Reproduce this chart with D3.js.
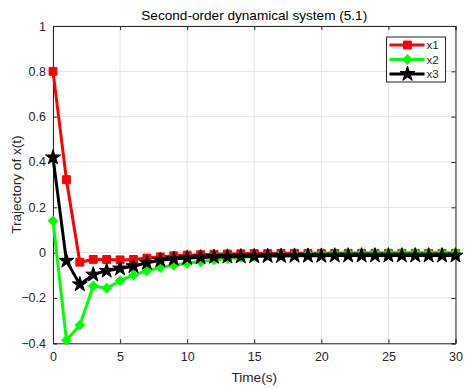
<!DOCTYPE html>
<html><head><meta charset="utf-8">
<script src="https://cdn.jsdelivr.net/npm/d3@7"></script>
<style>
html,body{margin:0;padding:0;background:#fff;}
svg{display:block;font-family:"Liberation Sans",Arial,Helvetica,sans-serif;}
</style></head><body>
<svg id="chart" width="472" height="388"></svg>
<script>
const time = d3.range(0, 31);
const x1 = [0.8, 0.322, -0.042, -0.03, -0.03, -0.032, -0.03, -0.024, -0.019, -0.014, -0.011, -0.009, -0.007, -0.006, -0.005, -0.004, -0.004, -0.003, -0.003, -0.003, -0.003, -0.003, -0.003, -0.003, -0.003, -0.003, -0.003, -0.003, -0.003, -0.003, -0.003];
const x2 = [0.14, -0.386, -0.32, -0.147, -0.157, -0.124, -0.099, -0.08, -0.066, -0.056, -0.047, -0.039, -0.032, -0.026, -0.021, -0.017, -0.013, -0.01, -0.008, -0.006, -0.005, -0.004, -0.003, -0.002, -0.002, -0.001, -0.001, 0, 0, 0, 0];
const x3 = [0.42, -0.036, -0.14, -0.097, -0.08, -0.07, -0.06, -0.045, -0.034, -0.028, -0.024, -0.021, -0.019, -0.018, -0.017, -0.016, -0.015, -0.015, -0.014, -0.014, -0.014, -0.013, -0.013, -0.013, -0.013, -0.013, -0.013, -0.013, -0.013, -0.013, -0.013];
const seriesNames = ["x1", "x2", "x3"];
const xTicks = [0, 5, 10, 15, 20, 25, 30];
const yTicks = [-0.4, -0.2, 0, 0.2, 0.4, 0.6, 0.8, 1];
const titleText = "Second-order dynamical system (5.1)";
const xLabel = "Time(s)";
const yLabel = "Trajectory of x(t)";

const svg = d3.select("#chart");
const L = 53, R = 455.5, T = 26, B = 343.3;
const x = d3.scaleLinear().domain([0, 30]).range([L, R]);
const y = d3.scaleLinear().domain([-0.4, 1]).range([B, T]);
const axisColor = "#262626";

// grid
const g = svg.append("g");
g.selectAll(".gx").data(xTicks).enter().append("line")
  .attr("x1", d => x(d)).attr("x2", d => x(d)).attr("y1", T).attr("y2", B)
  .attr("stroke", "#e3e3e3").attr("stroke-width", 1);
g.selectAll(".gy").data(yTicks).enter().append("line")
  .attr("y1", d => y(d)).attr("y2", d => y(d)).attr("x1", L).attr("x2", R)
  .attr("stroke", "#e3e3e3").attr("stroke-width", 1);

// axes
const fmt = d => d3.format("")(+d.toFixed(1));
const xAxis = svg.append("g").attr("transform", `translate(0,${B})`)
  .call(d3.axisBottom(x).tickValues(xTicks).tickSize(-4).tickPadding(9).tickFormat(d3.format("d")));
const xAxisTop = svg.append("g").attr("transform", `translate(0,${T})`)
  .call(d3.axisTop(x).tickValues(xTicks).tickSize(-4).tickFormat(""));
const yAxis = svg.append("g").attr("transform", `translate(${L},0)`)
  .call(d3.axisLeft(y).tickValues(yTicks).tickSize(-4).tickPadding(7).tickFormat(fmt));
const yAxisR = svg.append("g").attr("transform", `translate(${R},0)`)
  .call(d3.axisRight(y).tickValues(yTicks).tickSize(-4).tickFormat(""));
[xAxis, xAxisTop, yAxis, yAxisR].forEach(a => {
  a.select(".domain").attr("stroke", axisColor).attr("stroke-width", 1);
  a.selectAll(".tick line").attr("stroke", axisColor);
  a.selectAll("text").attr("fill", axisColor).style("font-size", "12.5px")
    .style("font-family", '"Liberation Sans",Arial,sans-serif');
});

// series
const colors = ["#ff0000", "#00ff00", "#000000"];
const data = [x1, x2, x3];
const line = d3.line().x((d, i) => x(time[i])).y(d => y(d));
const symSquare = d3.symbol().type(d3.symbolSquare).size(62);
const symDiamond = d3.symbol().type(d3.symbolSquare).size(44);
const symStar = d3.symbol().type(d3.symbolStar).size(70);
function drawMarker(sel, k) {
  if (k === 0) return sel.append("path").attr("d", symSquare());
  if (k === 1) return sel.append("path").attr("d", symDiamond()).attr("transform", "rotate(45)");
  return sel.append("path").attr("d", symStar());
}
data.forEach((vals, k) => {
  const sg = svg.append("g");
  sg.append("path").datum(vals).attr("d", line).attr("fill", "none")
    .attr("stroke", colors[k]).attr("stroke-width", 3).attr("stroke-linejoin", "round");
  vals.forEach((v, i) => {
    const m = sg.append("g").attr("transform", `translate(${x(time[i])},${y(v)})`);
    drawMarker(m, k).attr("fill", colors[k]).attr("stroke", colors[k]).attr("stroke-width", 1);
  });
});

// title & labels
svg.append("text").attr("x", (L + R) / 2).attr("y", 20).attr("text-anchor", "middle")
  .style("font-size", "13.6px").attr("fill", "#000").text(titleText);
svg.append("text").attr("x", (L + R) / 2).attr("y", 382).attr("text-anchor", "middle")
  .style("font-size", "13.6px").attr("fill", axisColor).text(xLabel);
svg.append("text").attr("transform", `translate(21,${(T + B) / 2}) rotate(-90)`).attr("text-anchor", "middle")
  .style("font-size", "13.6px").attr("fill", axisColor).text(yLabel);

// legend
const lg = svg.append("g");
const lx = 386.5, ly = 37, lw = 59, lh = 45;
lg.append("rect").attr("x", lx).attr("y", ly).attr("width", lw).attr("height", lh)
  .attr("fill", "#fff").attr("stroke", axisColor).attr("stroke-width", 1);
seriesNames.forEach((n, k) => {
  const yy = ly + 8 + k * 14.5;
  lg.append("line").attr("x1", lx + 3).attr("x2", lx + 38).attr("y1", yy).attr("y2", yy)
    .attr("stroke", colors[k]).attr("stroke-width", 3);
  const m = lg.append("g").attr("transform", `translate(${lx + 21},${yy})`);
  drawMarker(m, k).attr("fill", colors[k]).attr("stroke", colors[k]);
  lg.append("text").attr("x", lx + 40).attr("y", yy + 4).style("font-size", "11.5px")
    .attr("fill", axisColor).text(n);
});
</script>
</body></html>
